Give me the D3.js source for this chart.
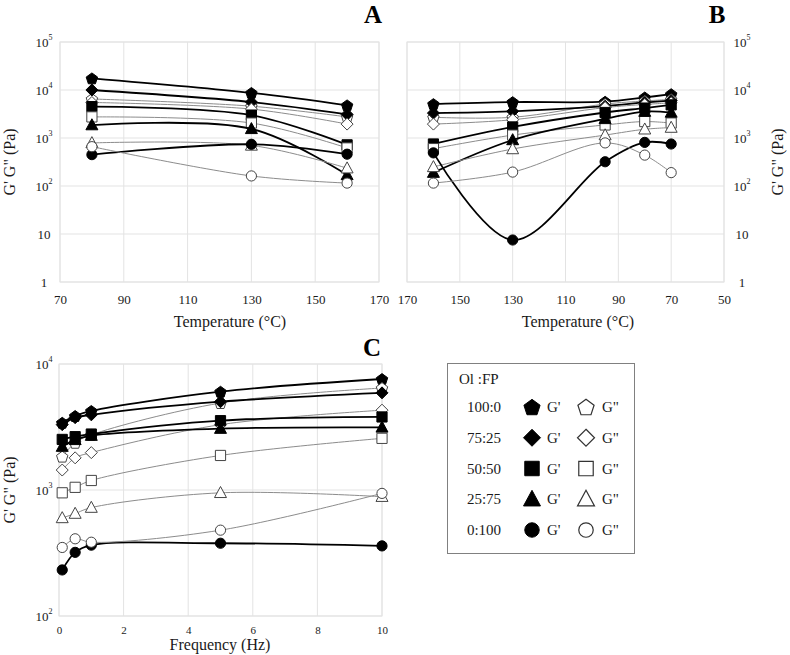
<!DOCTYPE html>
<html><head><meta charset="utf-8">
<script src="https://cdn.jsdelivr.net/npm/d3@7"></script>
<style>body{margin:0;background:#fff}svg{display:block}svg text{font-family:"Liberation Serif","DejaVu Serif","Times New Roman",serif !important}</style>
</head><body><svg id="c" width="790" height="655"></svg>
<script>
// ---------- DATA ----------
const ratios = ["100:0", "75:25", "50:50", "25:75", "0:100"];
const shapes = ["pentagon", "diamond", "square", "triangle", "circle"];
const yTicksAB = [1, 10, 100, 1000, 10000, 100000];
const yTicksC = [100, 1000, 10000];
const xTicksA = [70, 90, 110, 130, 150, 170];
const xTicksB = [170, 150, 130, 110, 90, 70, 50];
const xTicksC = [0, 2, 4, 6, 8, 10];

const tempA = [80, 130, 160];
const aGp = [
  [17500, 8700, 4800],
  [10000, 5600, 3100],
  [4500, 3000, 720],
  [1860, 1550, 170],
  [450, 740, 460]
];
const aGpp = [
  [6500, 4600, 2750],
  [5500, 4000, 1950],
  [2750, 2050, 620],
  [790, 700, 235],
  [660, 162, 115]
];

const tempB = [160, 130, 95, 80, 70];
const bGp = [
  [5100, 5600, 5700, 7000, 8200],
  [3300, 3600, 4600, 5500, 6000],
  [750, 1700, 3400, 4200, 4900],
  [190, 910, 2500, 3550, 3400],
  [490, 7.5, 320, 810, 750]
];
const bGpp = [
  [2700, 2700, 5100, 5900, 6400],
  [1950, 2400, 4300, 5000, 5400],
  [600, 1150, 1870, 2200, 2050],
  [250, 590, 1150, 1520, 1650],
  [115, 195, 790, 440, 190]
];

const freqC = [0.1, 0.5, 1, 5, 10];
const cGp = [
  [3420, 3870, 4240, 6030, 7600],
  [3300, 3750, 3950, 5020, 5900],
  [2520, 2650, 2780, 3550, 3800],
  [2210, 2500, 2700, 3070, 3140],
  [232, 320, 365, 378, 360]
];
const cGpp = [
  [1840, 2370, 2740, 4900, 6450],
  [1440, 1800, 1980, 3300, 4300],
  [950, 1050, 1190, 1880, 2570],
  [600, 650, 725, 950, 885],
  [350, 410, 385, 480, 940]
];

// ---------- HELPERS ----------
const svg = d3.select("#c");
const GRID = "#e3e3e3";
const TXT = "#1a1a1a";
const FONT = "Liberation Serif, DejaVu Serif, serif";

function shapePath(type, s) {
  const p = d3.path();
  if (type === "pentagon") {
    for (let k = 0; k < 5; k++) {
      const a = -Math.PI / 2 + k * 2 * Math.PI / 5;
      const x = s * Math.cos(a), y = s * Math.sin(a) + s * 0.1;
      k ? p.lineTo(x, y) : p.moveTo(x, y);
    }
    p.closePath();
  } else if (type === "diamond") {
    p.moveTo(0, -s); p.lineTo(s, 0); p.lineTo(0, s); p.lineTo(-s, 0); p.closePath();
  } else if (type === "square") {
    const h = s * 0.85; p.rect(-h, -h, 2 * h, 2 * h);
  } else if (type === "triangle") {
    const h = s * 1.05;
    p.moveTo(0, -h); p.lineTo(h * 0.95, h * 0.75); p.lineTo(-h * 0.95, h * 0.75); p.closePath();
  } else {
    p.arc(0, 0, s * 0.85, 0, 2 * Math.PI); p.closePath();
  }
  return p.toString();
}

function supLabel(sel, d) {
  sel.text(null);
  if (d < 100) { sel.text(d); return; }
  sel.append("tspan").text("10");
  sel.append("tspan").attr("dy", -7).attr("font-size", 8).text(Math.round(Math.log10(d)));
}

function panel(opt) {
  const g = svg.append("g").attr("font-family", FONT);
  const x = d3.scaleLinear().domain(opt.xDom).range(opt.xRange);
  const y = d3.scaleLog().domain(opt.yDom).range(opt.yRange);
  const [x0, x1] = opt.xRange, [y0, y1] = opt.yRange;
  const L = Math.min(x0, x1), R = Math.max(x0, x1);
  // grid
  g.append("g").selectAll("line").data(opt.xTicks).join("line")
    .attr("x1", d => x(d)).attr("x2", d => x(d)).attr("y1", y1).attr("y2", y0)
    .attr("stroke", GRID).attr("stroke-width", 1);
  g.append("g").selectAll("line").data(opt.yTicks).join("line")
    .attr("x1", L).attr("x2", R).attr("y1", d => y(d)).attr("y2", d => y(d))
    .attr("stroke", GRID).attr("stroke-width", 1);
  g.append("rect").attr("x", L).attr("y", y1).attr("width", R - L).attr("height", y0 - y1)
    .attr("fill", "none").attr("stroke", GRID);
  // x axis
  const xa = g.append("g").attr("transform", `translate(0,${y0})`)
    .call(d3.axisBottom(x).tickValues(opt.xTicks).tickSize(0).tickPadding(opt.xPad).tickFormat(d3.format("d")));
  xa.attr("font-family", FONT);
  xa.select(".domain").remove();
  xa.selectAll("text").attr("font-size", opt.xFont).attr("fill", TXT);
  // y axis
  const ya = g.append("g").attr("transform", `translate(${opt.yAxisX},0)`)
    .call(d3.axisLeft(y).tickValues(opt.yTicks).tickSize(0).tickPadding(0));
  ya.attr("font-family", FONT);
  ya.select(".domain").remove();
  ya.selectAll("text").attr("font-size", 13).attr("fill", TXT).attr("text-anchor", "middle")
    .each(function (d) { supLabel(d3.select(this), d); });
  // titles
  g.append("text").attr("x", opt.xTitle[0]).attr("y", opt.xTitle[1]).attr("text-anchor", "middle")
    .attr("font-size", 16).attr("fill", TXT).text(opt.xLabel);
  g.append("text").attr("transform", `translate(${opt.yTitle[0]},${opt.yTitle[1]}) rotate(-90)`)
    .attr("text-anchor", "middle").attr("font-size", 16).attr("fill", TXT).text("G' G\" (Pa)");
  g.append("text").attr("x", opt.letter[0]).attr("y", opt.letter[1]).attr("text-anchor", "middle")
    .attr("font-size", 25).attr("font-weight", "bold").attr("fill", "#000").text(opt.letterText);
  // series
  const line = d3.line().x(d => x(d[0])).y(d => y(d[1])).curve(d3.curveCatmullRom.alpha(0.5));
  ratios.forEach((r, i) => {
    [[opt.gp[i], true], [opt.gpp[i], false]].forEach(([vals, filled]) => {
      const pts = opt.xs.map((xv, j) => [xv, vals[j]]);
      g.append("path").datum(pts).attr("d", line).attr("fill", "none")
        .attr("stroke", filled ? "#000" : "#8c8c8c").attr("stroke-width", filled ? 1.8 : 1);
      g.append("g").selectAll("path").data(pts).join("path")
        .attr("transform", d => `translate(${x(d[0])},${y(d[1])})`)
        .attr("d", shapePath(shapes[i], 6))
        .attr("fill", filled ? "#000" : "#fff")
        .attr("stroke", filled ? "#000" : "#444").attr("stroke-width", 1);
    });
  });
}

panel({
  xDom: [70, 170], xRange: [60, 379], yDom: [1, 100000], yRange: [282, 42],
  xTicks: xTicksA, yTicks: yTicksAB, xPad: 13, xFont: 13, yAxisX: 44,
  xTitle: [230, 327], yTitle: [15, 162], letter: [373, 23], letterText: "A",
  xLabel: "Temperature (°C)", xs: tempA, gp: aGp, gpp: aGpp
});
panel({
  xDom: [170, 50], xRange: [407, 724], yDom: [1, 100000], yRange: [282, 42],
  xTicks: xTicksB, yTicks: yTicksAB, xPad: 13, xFont: 13, yAxisX: 742,
  xTitle: [578, 327], yTitle: [783, 162], letter: [717, 23], letterText: "B",
  xLabel: "Temperature (°C)", xs: tempB, gp: bGp, gpp: bGpp
});
panel({
  xDom: [0, 10], xRange: [59, 382], yDom: [100, 10000], yRange: [616, 364],
  xTicks: xTicksC, yTicks: yTicksC, xPad: 10, xFont: 11, yAxisX: 44,
  xTitle: [220, 650], yTitle: [15, 490], letter: [372, 356], letterText: "C",
  xLabel: "Frequency (Hz)", xs: freqC, gp: cGp, gpp: cGpp
});

// ---------- LEGEND ----------
const lg = svg.append("g").attr("font-family", FONT);
lg.append("rect").attr("x", 447.5).attr("y", 363.5).attr("width", 187).attr("height", 190)
  .attr("fill", "#fff").attr("stroke", "#808080").attr("stroke-width", 1);
lg.append("text").attr("x", 459).attr("y", 384).attr("font-size", 15).attr("fill", TXT).text("Ol :FP");
const rowY = d3.scaleLinear().domain([0, 4]).range([407, 530]);
ratios.forEach((r, i) => {
  const cy = rowY(i);
  lg.append("text").attr("x", 484).attr("y", cy + 5).attr("text-anchor", "middle")
    .attr("font-size", 15).attr("fill", TXT).text(r);
  lg.append("path").attr("transform", `translate(532,${cy})`).attr("d", shapePath(shapes[i], 8.5))
    .attr("fill", "#000").attr("stroke", "#000");
  lg.append("text").attr("x", 547).attr("y", cy + 5).attr("font-size", 15).attr("fill", TXT).text("G'");
  lg.append("path").attr("transform", `translate(586,${cy})`).attr("d", shapePath(shapes[i], 8.5))
    .attr("fill", "#fff").attr("stroke", "#333").attr("stroke-width", 1.2);
  lg.append("text").attr("x", 602).attr("y", cy + 5).attr("font-size", 15).attr("fill", TXT).text("G\"");
});
</script></body></html>
